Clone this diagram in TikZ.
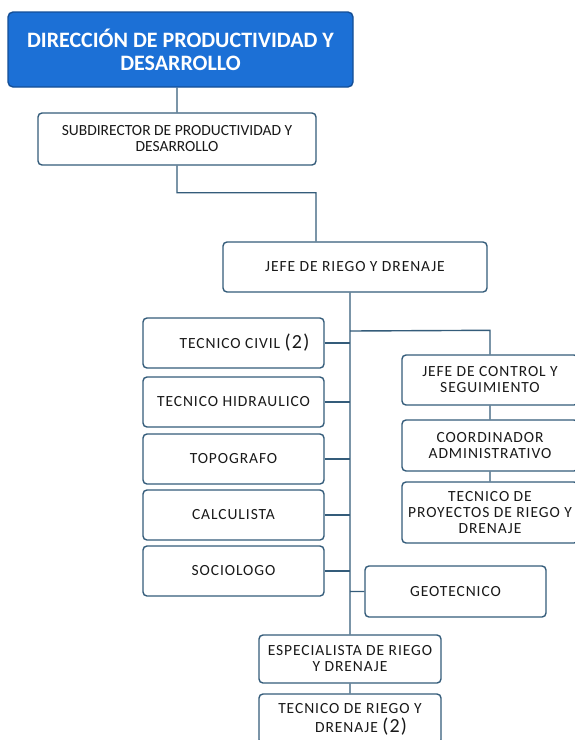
\documentclass[tikz,border=0pt]{standalone}
\usepackage{fontspec}
\setmainfont{Carlito}
\newfontfamily\boxfont[LetterSpace=6]{Carlito}
\usepackage{tikz}
\usetikzlibrary{positioning}
\definecolor{lineblue}{RGB}{52,92,122}
\definecolor{headblue}{RGB}{28,112,214}
\newcommand{\bignum}[1]{{\fontsize{20}{20}\selectfont(#1)}}

\begin{document}
\begin{tikzpicture}[x=1pt,y=-1pt,
		box/.style={draw=lineblue,line width=1.4pt,rounded corners=4pt,fill=white,align=center,
			text=black!90,inner sep=1pt,font=\boxfont\fontsize{15.5}{16}\selectfont},
		head/.style={box,draw=headblue!70!black,fill=headblue,text=white,rounded corners=5pt,
			font=\bfseries\fontsize{22}{23}\selectfont},
		link/.style={draw=lineblue,line width=1.4pt}]
	\useasboundingbox (0,0) rectangle (575,740);
	% top of the chart
	\node[head,minimum width=345pt,minimum height=75pt] (dir) at (180.5,49.5) {DIRECCIÓN DE PRODUCTIVIDAD Y\\DESARROLLO};
	\node[box,minimum width=278pt,minimum height=52pt,font=\fontsize{15.5}{16}\selectfont] (subdir) at (177,139) {SUBDIRECTOR DE PRODUCTIVIDAD Y\\DESARROLLO};
	\node[box,minimum width=264pt,minimum height=50pt] (jefeRiego) at (355,267) {JEFE DE RIEGO Y DRENAJE};
	% left column
	\node[box,minimum width=181pt,minimum height=50pt] (tecCivil) at (233.5,343) {\hspace*{22pt}TECNICO CIVIL \bignum{2}};
	\node[box,minimum width=181pt,minimum height=50pt] (tecHidr) at (233.5,402) {TECNICO HIDRAULICO};
	\node[box,minimum width=181pt,minimum height=50pt] (topog) at (233.5,459) {TOPOGRAFO};
	\node[box,minimum width=181pt,minimum height=50pt] (calc) at (233.5,515) {CALCULISTA};
	\node[box,minimum width=181pt,minimum height=50pt] (socio) at (233.5,571) {SOCIOLOGO};
	% right column
	\node[box,minimum width=176pt,minimum height=50pt] (jefeCtrl) at (490,380) {JEFE DE CONTROL Y\\SEGUIMIENTO};
	\node[box,minimum width=176pt,minimum height=51pt] (coordAdm) at (490,445.5) {COORDINADOR\\ADMINISTRATIVO};
	\node[box,minimum width=176pt,minimum height=61pt] (tecProy) at (490,512.5) {TECNICO DE\\PROYECTOS DE RIEGO Y\\DRENAJE};
	\node[box,minimum width=181pt,minimum height=51pt] (geotec) at (455.5,591.5) {GEOTECNICO};
	% bottom
	\node[box,minimum width=182pt,minimum height=48pt] (espRiego) at (350,659) {ESPECIALISTA DE RIEGO\\Y DRENAJE};
	\node[box,minimum width=182pt,minimum height=50pt] (tecRiego) at (350,719) {TECNICO DE RIEGO Y\\[3pt]\hspace*{22pt}DRENAJE \bignum{2}};

	\path[link]
		(dir.south -| subdir.north) -- (subdir.north)
		(subdir.south) -- ++(0,27) -| ([xshift=-39pt]jefeRiego.north)
		(espRiego.north |- jefeRiego.south) -- (espRiego.north)
		(espRiego.south) -- (tecRiego.north)
		(jefeCtrl.north) -- ++(0,-24) -- (espRiego.north |- 0,331)
		(jefeCtrl.south) -- (coordAdm.north)
		(coordAdm.south) -- (tecProy.north)
		(geotec.west) -- (geotec.west -| espRiego.north);
	\foreach \n in {tecCivil,tecHidr,topog,calc,socio}
		\path[link] (\n.east) -- (\n.east -| espRiego.north);
\end{tikzpicture}
\end{document}
